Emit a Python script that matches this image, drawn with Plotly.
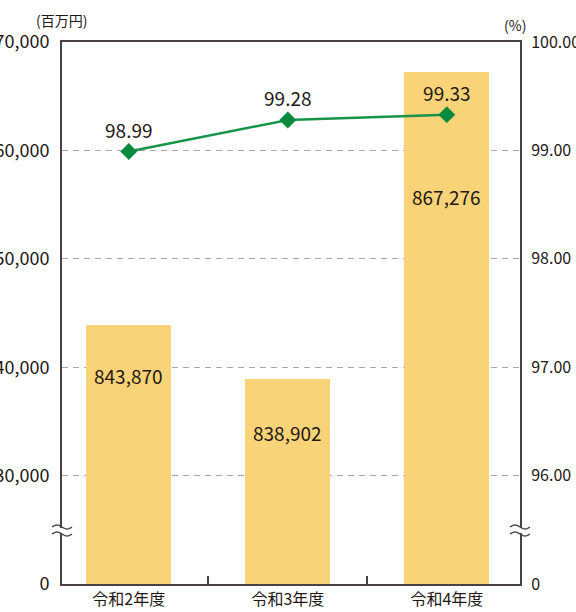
import math
import plotly.graph_objects as go

# ---------------- data ----------------
categories = ["令和2年度", "令和3年度", "令和4年度"]
amounts = [843870, 838902, 867276]          # 百万円 (bars, left axis)
rates = [98.99, 99.28, 99.33]               # % (line, right axis)

left_tickvals = [820000, 830000, 840000, 850000, 860000, 870000]
left_ticktext = ["0", "830,000", "840,000", "850,000", "860,000", "870,000"]
right_tickvals = [95, 96, 97, 98, 99, 100]
right_ticktext = ["0", "96.00", "97.00", "98.00", "99.00", "100.00"]

left_unit = "(百万円)"
right_unit = "(%)"

# ---------------- style ----------------
FONT = "Noto Sans CJK JP"
TXT = "#231815"
AXIS = "#4a4242"
BAR = "#f9d377"
GREEN = "#17944a"
MARK = "#0a8a3c"

W, H = 576, 612
ML, MR, MT, MB = 62, 56, 42, 28
PW, PH = W - ML - MR, H - MT - MB

bar_label_shift = [-50, -53, -125]

fig = go.Figure()
fig.add_trace(go.Bar(
    x=categories, y=amounts, width=0.535,
    marker=dict(color=BAR, line=dict(width=0)),
    hoverinfo="skip", showlegend=False,
))
fig.add_trace(go.Scatter(
    x=categories, y=rates, yaxis="y2",
    mode="lines+markers+text",
    text=[f"{r:.2f}" for r in rates],
    textposition="top center",
    textfont=dict(family=FONT, size=19, color=TXT),
    line=dict(color=GREEN, width=2.5),
    marker=dict(symbol="diamond", size=13, color=MARK),
    showlegend=False, cliponaxis=False, hoverinfo="skip",
))

annotations = []
for c, v, s in zip(categories, amounts, bar_label_shift):
    annotations.append(dict(
        x=c, y=v, xref="x", yref="y", text=f"{v:,}", showarrow=False,
        yshift=s, font=dict(family=FONT, size=19, color=TXT),
    ))
annotations.append(dict(x=0, y=1, xref="paper", yref="paper", text=left_unit,
                        showarrow=False, xanchor="center", yanchor="middle",
                        xshift=-1, yshift=22,
                        font=dict(family=FONT, size=14, color=TXT)))
annotations.append(dict(x=1, y=1, xref="paper", yref="paper", text=right_unit,
                        showarrow=False, xanchor="center", yanchor="middle",
                        xshift=-5, yshift=17,
                        font=dict(family=FONT, size=14, color=TXT)))


# axis break marks (drawn in paper coordinates)
def px_to_paper(px, py):
    return (px - ML) / PW, (MT + PH - py) / PH


def wave(cx, cy, half=10, amp=2.0, n=20):
    pts = []
    for i in range(n + 1):
        t = i / n
        px = cx - half + 2 * half * t
        py = cy - amp * math.sin(2 * math.pi * t)
        pts.append(px_to_paper(px, py))
    return "M " + " L ".join(f"{x:.5f},{y:.5f}" for x, y in pts)


shapes = []
for ax_x in (ML, ML + PW):
    x0, y0 = px_to_paper(ax_x - 3, 533)
    x1, y1 = px_to_paper(ax_x + 3, 528)
    shapes.append(dict(type="rect", xref="paper", yref="paper",
                       x0=x0, x1=x1, y0=y0, y1=y1,
                       fillcolor="white", line=dict(width=0), layer="above"))
    for cy in (527, 534):
        shapes.append(dict(type="path", xref="paper", yref="paper",
                           path=wave(ax_x, cy), line=dict(color=AXIS, width=1.3),
                           layer="above"))

fig.update_layout(
    width=W, height=H,
    margin=dict(l=ML, r=MR, t=MT, b=MB, autoexpand=False),
    paper_bgcolor="white", plot_bgcolor="white",
    font=dict(family=FONT, color=TXT),
    bargap=0,
    xaxis=dict(
        type="category", range=[-0.42, 2.46],
        showline=True, linecolor=AXIS, linewidth=2, mirror=True,
        ticks="inside", tickson="boundaries", ticklen=8, tickwidth=1.5,
        tickcolor=AXIS, showgrid=False,
        tickfont=dict(family=FONT, size=16, color=TXT),
    ),
    yaxis=dict(
        range=[820000, 870000], tickvals=left_tickvals, ticktext=left_ticktext,
        showline=True, linecolor=AXIS, linewidth=2, ticks="",
        showgrid=True, gridcolor="#a8a8a8", gridwidth=1, griddash="6px,5px",
        zeroline=False, ticklabelstandoff=7,
        tickfont=dict(family=FONT, size=18, color=TXT),
    ),
    yaxis2=dict(
        range=[95, 100], tickvals=right_tickvals, ticktext=right_ticktext,
        overlaying="y", side="right",
        showline=True, linecolor=AXIS, linewidth=2, ticks="",
        showgrid=False, zeroline=False, ticklabelstandoff=6,
        tickfont=dict(family=FONT, size=16, color=TXT),
    ),
    annotations=annotations,
    shapes=shapes,
)

fig.write_html("out.html",
               config={"displayModeBar": False},
               post_script="document.body.style.margin='0px';"
                           "document.body.style.padding='0px';")
